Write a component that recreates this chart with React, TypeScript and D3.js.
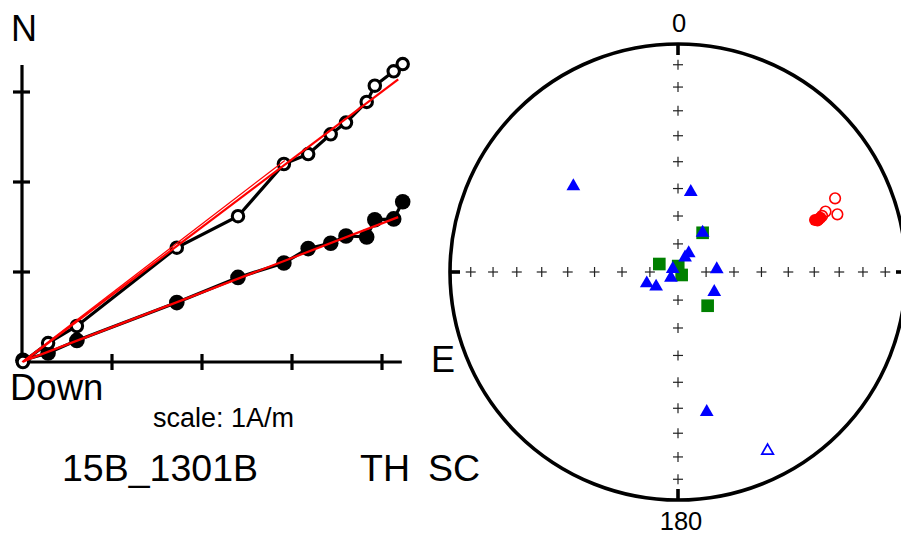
import React from "react";
import * as d3 from "d3";

// ---------- Zijderveld data (A/m) ----------
const E_COMP = [0.01, 0.29, 0.61, 1.72, 2.4, 2.91, 3.18, 3.43, 3.6, 3.83, 3.92, 4.13, 4.23];
const N_COMP = [0.02, 0.1, 0.24, 0.66, 0.94, 1.1, 1.26, 1.32, 1.4, 1.39, 1.58, 1.59, 1.78];
const DOWN_COMP = [0.0, 0.21, 0.4, 1.27, 1.62, 2.2, 2.31, 2.53, 2.66, 2.89, 3.07, 3.23, 3.31];
const FIT_HORIZ: [number, number][] = [[0.02, 0.01], [4.18, 1.61]];
const FIT_VERT: [number, number][] = [[0.01, 0.0], [4.18, 3.14]];
const FIT_VERT_ANCHORED: [number, number][] = [[0.0, 0.0], [2.92, 2.24]];
const X_TICKS = [1, 2, 3, 4];
const Y_TICKS = [1, 2, 3];

// ---------- Equal-area stereonet data (projected unit coords: east, north) ----------
const BLUE_TRIANGLES: [number, number][] = [
  [-0.459, 0.376], [0.056, 0.351], [0.108, 0.172], [0.047, 0.082], [0.031, 0.064],
  [-0.023, 0.013], [-0.031, -0.025], [0.17, 0.012], [-0.137, -0.05], [-0.096, -0.064],
  [0.159, -0.088], [0.126, -0.614],
];
const BLUE_OPEN_TRIANGLES: [number, number][] = [[0.393, -0.784]];
const GREEN_SQUARES: [number, number][] = [
  [-0.082, 0.035], [0.001, 0.026], [0.016, -0.013], [0.108, 0.172], [0.13, -0.148],
];
const RED_FILLED: [number, number][] = [[0.601, 0.228], [0.612, 0.226], [0.618, 0.232], [0.625, 0.238]];
const RED_OPEN: [number, number][] = [[0.632, 0.246], [0.647, 0.265], [0.689, 0.323], [0.699, 0.253]];
const NET_INCS = [10, 20, 30, 40, 50, 60, 70, 80, 90];
const NET_DECS = [0, 90, 180, 270];

const FONT = "'Liberation Sans', Arial, Helvetica, sans-serif";

export default function App() {
  const W = 901, H = 541;
  // Zijderveld scales
  const zx = d3.scaleLinear().domain([0, 1]).range([22, 112]);
  const zy = d3.scaleLinear().domain([0, 1]).range([362, 272]);
  const line = d3.line<[number, number]>().x((d) => zx(d[0])).y((d) => zy(d[1]));
  const horiz: [number, number][] = E_COMP.map((e, i) => [e, N_COMP[i]]);
  const vert: [number, number][] = E_COMP.map((e, i) => [e, DOWN_COMP[i]]);

  // Stereonet scales
  const cx = 678, cy = 272, R = 228;
  const sx = d3.scaleLinear().domain([-1, 1]).range([cx - R, cx + R]);
  const sy = d3.scaleLinear().domain([-1, 1]).range([cy + R, cy - R]);
  const eqArea = (inc: number) => Math.SQRT2 * Math.sin(((90 - inc) / 2) * Math.PI / 180);

  const tri = d3.symbol().type(d3.symbolTriangle).size(82)();
  const triOpen = d3.symbol().type(d3.symbolTriangle).size(58)();
  const sq = d3.symbol().type(d3.symbolSquare).size(160)();

  const crosses: [number, number][] = [];
  NET_DECS.forEach((dec) => {
    NET_INCS.forEach((inc) => {
      const r = eqArea(inc);
      const a = (dec * Math.PI) / 180;
      crosses.push([r * Math.sin(a), r * Math.cos(a)]);
    });
  });

  return (
    <svg width={W} height={H} style={{ position: "absolute", left: 0, top: 0, background: "#fff" }}>
      <rect width={W} height={H} fill="#fff" />
      {/* Zijderveld axes */}
      <g stroke="#000" strokeWidth={3.2}>
        <line x1={zx(0)} y1={zy(0)} x2={zx(4.22)} y2={zy(0)} />
        <line x1={zx(0)} y1={zy(0)} x2={zx(0)} y2={zy(3.3)} />
        {X_TICKS.map((t) => (
          <line key={"xt" + t} x1={zx(t)} x2={zx(t)} y1={zy(0) - 8} y2={zy(0) + 8} />
        ))}
        {Y_TICKS.map((t) => (
          <line key={"yt" + t} x1={zx(0) - 9} x2={zx(0) + 8} y1={zy(t)} y2={zy(t)} />
        ))}
      </g>
      <path d={line(horiz) || ""} fill="none" stroke="#000" strokeWidth={3.2} />
      {horiz.map((d, i) => (
        <circle key={"h" + i} cx={zx(d[0])} cy={zy(d[1])} r={7.8} fill="#000" />
      ))}
      <path d={line(vert) || ""} fill="none" stroke="#000" strokeWidth={3.2} />
      {vert.map((d, i) => (
        <circle key={"v" + i} cx={zx(d[0])} cy={zy(d[1])} r={5.7} fill="#fff" stroke="#000" strokeWidth={3.1} />
      ))}
      <path d={line(FIT_HORIZ) || ""} fill="none" stroke="#f00" strokeWidth={2.2} />
      <path d={line(FIT_VERT) || ""} fill="none" stroke="#f00" strokeWidth={2.2} />
      <path d={line(FIT_VERT_ANCHORED) || ""} fill="none" stroke="#f00" strokeWidth={1.3} />

      <g fontFamily={FONT} fill="#000">
        <text x={11} y={41} fontSize={36}>N</text>
        <text x={10} y={400} fontSize={36.5}>Down</text>
        <text x={431} y={372} fontSize={36}>E</text>
        <text x={153} y={427} fontSize={27}>scale: 1A/m</text>
        <text x={62} y={481} fontSize={37.5}>15B_1301B</text>
        <text x={360} y={481} fontSize={37.5}>TH</text>
        <text x={428} y={481} fontSize={37.5}>SC</text>
        <text x={679} y={32} fontSize={25.5} textAnchor="middle">0</text>
        <text x={681} y={530} fontSize={25.5} textAnchor="middle">180</text>
      </g>

      {/* Stereonet */}
      <circle cx={cx} cy={cy} r={R} fill="none" stroke="#000" strokeWidth={3.6} />
      <g stroke="#000" strokeWidth={3.6}>
        <line x1={sx(0)} x2={sx(0)} y1={sy(1)} y2={sy(1) + 11} />
        <line x1={sx(0)} x2={sx(0)} y1={sy(-1)} y2={sy(-1) - 11} />
        <line x1={sx(-1)} x2={sx(-1) + 10} y1={sy(0)} y2={sy(0)} />
        <line x1={sx(1)} x2={sx(1) - 10} y1={sy(0)} y2={sy(0)} />
      </g>
      <g stroke="#222" strokeWidth={1.2}>
        {crosses.map((c, i) => (
          <g key={"c" + i}>
            <line x1={sx(c[0]) - 5} x2={sx(c[0]) + 5} y1={sy(c[1])} y2={sy(c[1])} />
            <line x1={sx(c[0])} x2={sx(c[0])} y1={sy(c[1]) - 5} y2={sy(c[1]) + 5} />
          </g>
        ))}
      </g>
      {GREEN_SQUARES.map((d, i) => (
        <path key={"g" + i} d={sq || ""} transform={`translate(${sx(d[0])},${sy(d[1])})`} fill="#008000" />
      ))}
      {BLUE_TRIANGLES.map((d, i) => (
        <path key={"b" + i} d={tri || ""} transform={`translate(${sx(d[0])},${sy(d[1])})`} fill="#0000ff" />
      ))}
      {BLUE_OPEN_TRIANGLES.map((d, i) => (
        <path key={"bo" + i} d={triOpen || ""} transform={`translate(${sx(d[0])},${sy(d[1])})`} fill="#fff" stroke="#0000ff" strokeWidth={1.7} />
      ))}
      {RED_FILLED.map((d, i) => (
        <circle key={"rf" + i} cx={sx(d[0])} cy={sy(d[1])} r={6} fill="#f00" />
      ))}
      {RED_OPEN.map((d, i) => (
        <circle key={"ro" + i} cx={sx(d[0])} cy={sy(d[1])} r={5.3} fill="none" stroke="#f00" strokeWidth={1.6} />
      ))}
    </svg>
  );
}
